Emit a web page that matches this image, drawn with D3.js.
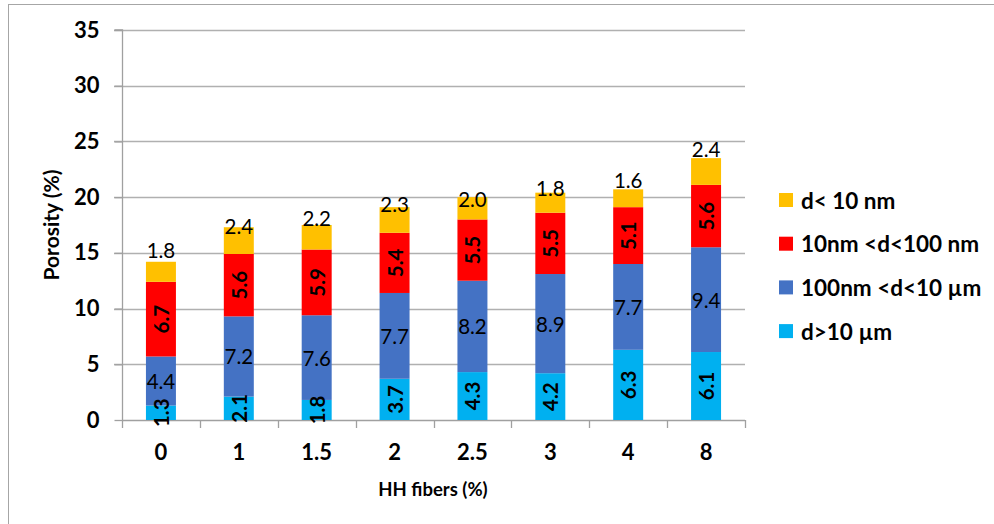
<!DOCTYPE html>
<html><head><meta charset="utf-8">
<script src="https://cdn.jsdelivr.net/npm/d3@7"></script>
<style>body{margin:0;background:#fff;}svg{display:block;font-family:Lato,"Open Sans",sans-serif;}</style>
</head><body>
<svg id="c" width="994" height="524"></svg>
<script>
const categories = ["0","1","1.5","2","2.5","3","4","8"];
const seriesNames = ["d>10 \u00b5m","100nm <d<10 \u00b5m","10nm <d<100 nm","d< 10 nm"];
const dOver10um = [1.3,2.1,1.8,3.7,4.3,4.2,6.3,6.1];
const d100nmTo10um = [4.4,7.2,7.6,7.7,8.2,8.9,7.7,9.4];
const d10To100nm = [6.7,5.6,5.9,5.4,5.5,5.5,5.1,5.6];
const dUnder10nm = [1.8,2.4,2.2,2.3,2.0,1.8,1.6,2.4];
const yTicks = [0,5,10,15,20,25,30,35];
const topLabelNudge = [-12,-1,-7,-3,2,-5,-9,-9];

const colors = ["#00B0F0","#4472C4","#FF0000","#FFC000"];
const seriesVals = [dOver10um,d100nmTo10um,d10To100nm,dUnder10nm];
const rows = categories.map((c,i)=>{const r={cat:c}; seriesNames.forEach((s,k)=>r[s]=seriesVals[k][i]); return r;});
const stack = d3.stack().keys(seriesNames)(rows);

const svg = d3.select("#c");
const L=122, R=745, T=30, B=420;
const x = d3.scaleBand().domain(categories).range([L,R]).paddingInner(0.615).paddingOuter(0.3075);
const y = d3.scaleLinear().domain([0,35]).range([B,T]);

// outer border
svg.append("rect").attr("x",8.5).attr("y",4.5).attr("width",1100).attr("height",1100)
  .attr("fill","none").attr("stroke","#a6a6a6").attr("stroke-width",1);

// gridlines
svg.append("g").selectAll("line").data(yTicks.filter(d=>d>0)).join("line")
  .attr("x1",114).attr("x2",R).attr("y1",d=>Math.round(y(d))+0.5).attr("y2",d=>Math.round(y(d))+0.5)
  .attr("stroke","#b0b0b0").attr("stroke-width",1.3);

// y axis
const ya = svg.append("g").attr("transform",`translate(${L+0.5},0)`)
  .call(d3.axisLeft(y).tickValues(yTicks).tickSize(8).tickPadding(15));
ya.select(".domain").attr("stroke","#a0a0a0").attr("stroke-width",1.3).attr("d",`M-8,${T}H0V${B}`);
ya.selectAll(".tick line").attr("stroke","#a0a0a0").attr("stroke-width",1.3);
ya.selectAll(".tick text").attr("font-size",22).attr("font-weight","bold").attr("fill","#000")
  .attr("font-family","Lato,sans-serif");

// x axis
const xa = svg.append("g").attr("transform",`translate(0,${Math.round(B)+0.5})`)
  .call(d3.axisBottom(x).tickSize(0).tickPadding(24));
xa.select(".domain").attr("stroke","#a0a0a0").attr("stroke-width",1.3).attr("d",`M${L},0H${R}`);
xa.selectAll(".tick text").attr("font-size",22).attr("font-weight","bold").attr("fill","#000")
  .attr("font-family","Lato,sans-serif");
const step = x.step();
svg.append("g").selectAll("line").data(d3.range(categories.length+1)).join("line")
  .attr("x1",i=>Math.round(L+i*step)+0.5).attr("x2",i=>Math.round(L+i*step)+0.5)
  .attr("y1",B).attr("y2",B+8).attr("stroke","#a0a0a0").attr("stroke-width",1.3);

// bars
const gBars = svg.append("g");
stack.forEach((layer,k)=>{
  gBars.append("g").attr("fill",colors[k]).selectAll("rect").data(layer).join("rect")
    .attr("x",d=>x(d.data.cat)).attr("width",x.bandwidth())
    .attr("y",d=>y(d[1])).attr("height",d=>y(d[0])-y(d[1]));
});

// labels
const gLab = svg.append("g").attr("font-family","Lato,sans-serif").attr("fill","#000");
stack.forEach((layer,k)=>{
  layer.forEach((d,i)=>{
    const cx = x(d.data.cat)+x.bandwidth()/2;
    const v = seriesVals[k][i].toFixed(1);
    if(k===3){
      gLab.append("text").attr("x",cx).attr("y",y(d[1])+topLabelNudge[i])
        .attr("text-anchor","middle").attr("dominant-baseline","central")
        .attr("font-size",20.5).text(v);
    } else if(k===1){
      gLab.append("text").attr("x",cx).attr("y",(y(d[0])+y(d[1]))/2)
        .attr("text-anchor","middle").attr("dominant-baseline","central")
        .attr("font-size",20.5).text(v);
    } else {
      const cy=(y(d[0])+y(d[1]))/2;
      gLab.append("text").attr("transform",`translate(${cx},${cy}) rotate(-90)`)
        .attr("text-anchor","middle").attr("dominant-baseline","central")
        .attr("font-size",20.5).attr("font-weight","bold").text(v);
    }
  });
});

// axis titles
svg.append("text").attr("transform",`translate(50,225) rotate(-90)`).attr("text-anchor","middle")
  .attr("dominant-baseline","central").attr("font-size",21).attr("font-weight","bold").text("Porosity (%)");
svg.append("text").attr("x",433).attr("y",489).attr("text-anchor","middle")
  .attr("dominant-baseline","central").attr("font-size",18.5).attr("font-weight","bold").text("HH fibers (%)");

// legend
const legOrder=[3,2,1,0];
const lg = svg.append("g");
legOrder.forEach((k,j)=>{
  const cy = 200+j*43.7;
  lg.append("rect").attr("x",779).attr("y",cy-7).attr("width",14).attr("height",14).attr("fill",colors[k]);
  lg.append("text").attr("x",801).attr("y",cy).attr("dominant-baseline","central")
    .attr("font-size",22.5).attr("font-weight","bold").text(seriesNames[k]);
});
</script>
</body></html>
